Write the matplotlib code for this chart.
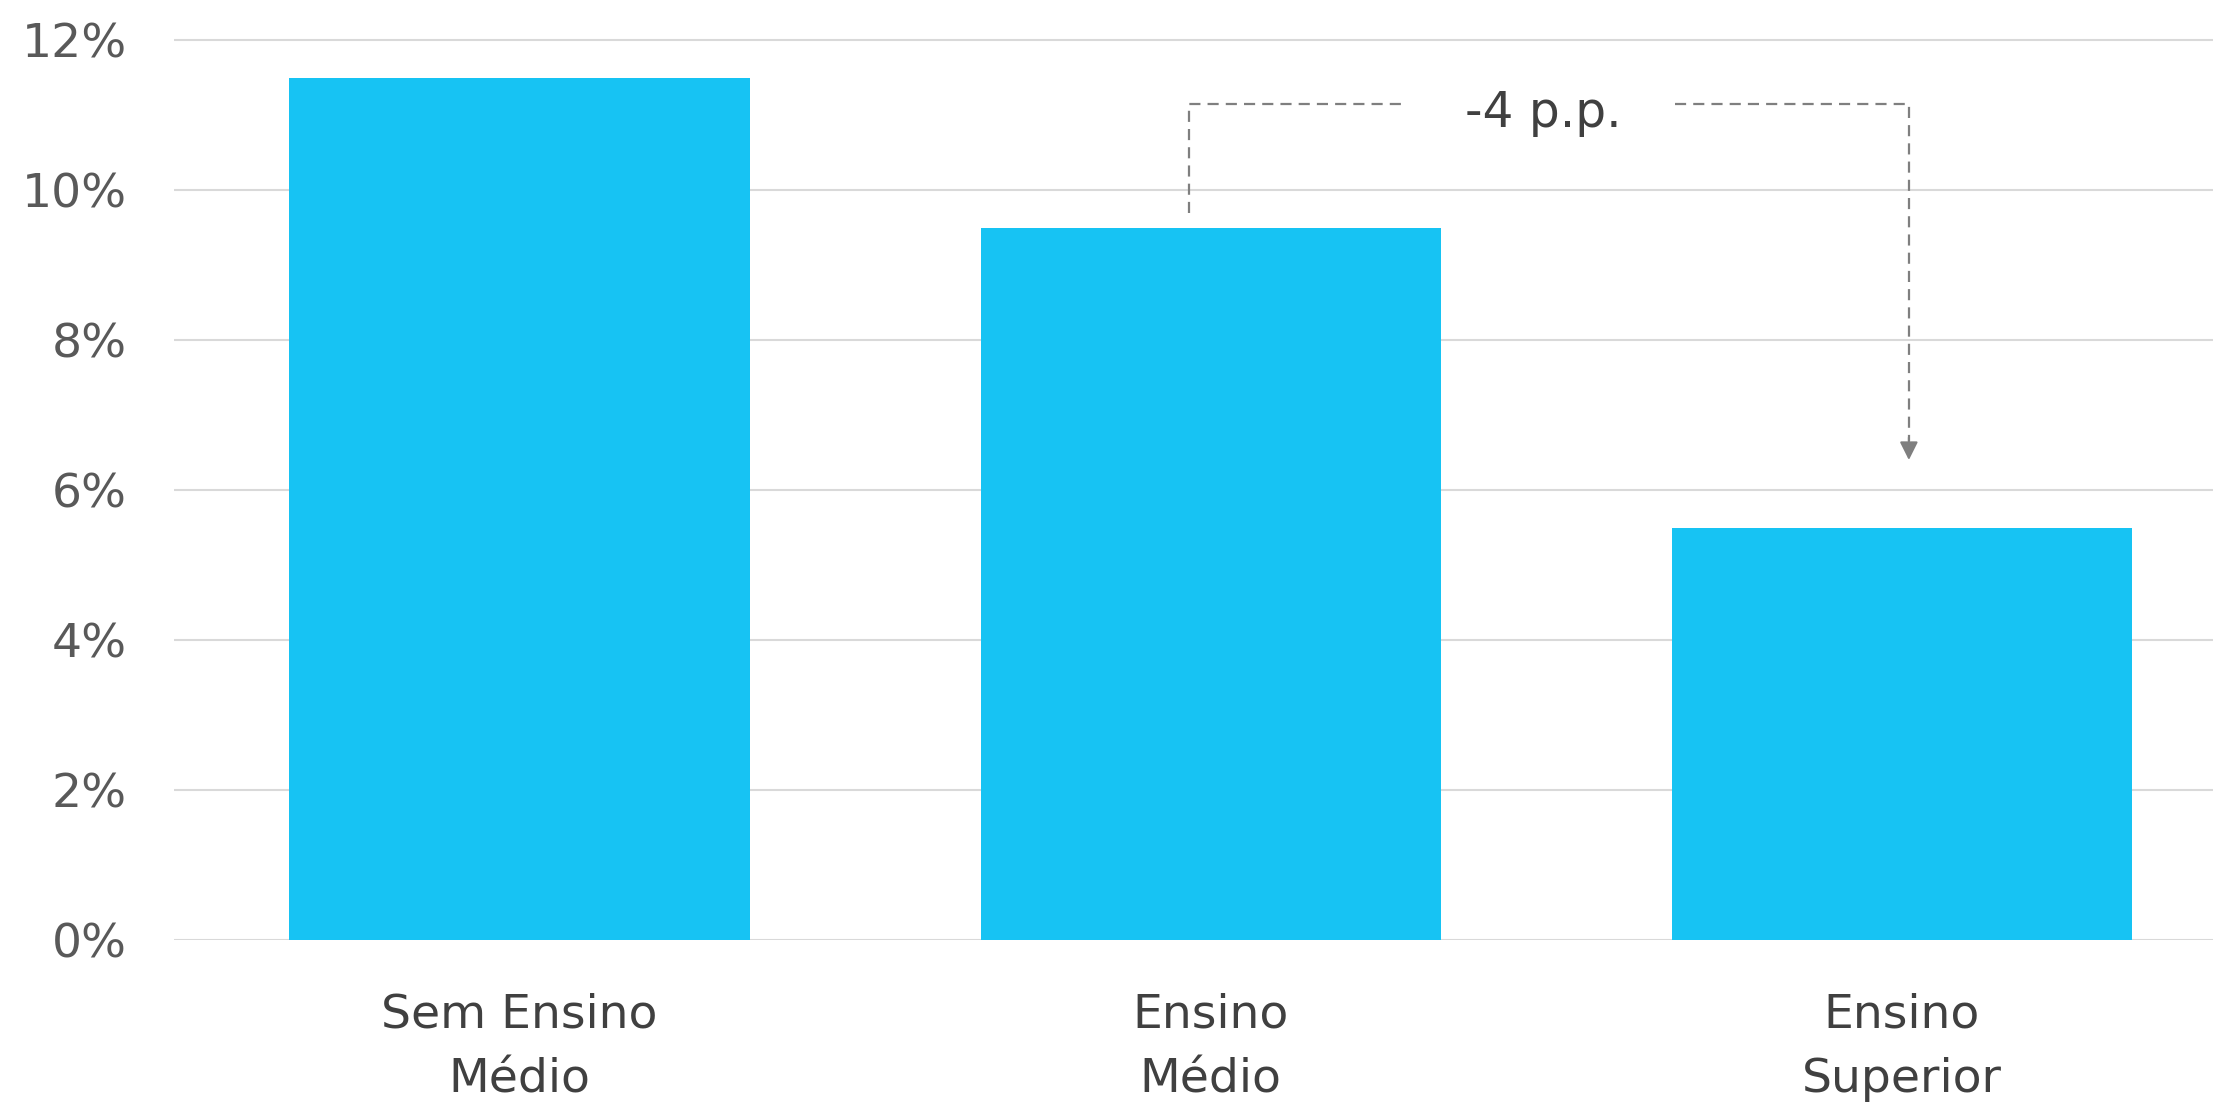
import matplotlib
matplotlib.use("Agg")
import matplotlib.pyplot as plt
from matplotlib.ticker import FixedLocator, FixedFormatter

categories = ["Sem Ensino\nMédio", "Ensino\nMédio", "Ensino\nSuperior"]
values = [11.5, 9.5, 5.5]
y_ticks = [0, 2, 4, 6, 8, 10, 12]
y_tick_labels = ["0%", "2%", "4%", "6%", "8%", "10%", "12%"]
annotation_text = "-4 p.p."

BAR_COLOR = "#17C3F3"
GRID_COLOR = "#D9D9D9"
TICK_COLOR = "#595959"
TEXT_COLOR = "#404040"
DASH_COLOR = "#7F7F7F"

plt.rcParams["font.family"] = ["DejaVu Sans"]

W, H = 2213, 1108
fig = plt.figure(figsize=(W / 100, H / 100), dpi=100)
ax = fig.add_axes([174 / W, 1 - 940 / H, 1 - 174 / W, 12.5 * 75 / H])

x = list(range(len(categories)))
ax.bar(x, values, width=0.666, color=BAR_COLOR, zorder=3)

ax.set_xlim(-0.5, 2.45)
ax.set_ylim(0, 12.5)
ax.yaxis.set_major_locator(FixedLocator(y_ticks))
ax.yaxis.set_major_formatter(FixedFormatter(y_tick_labels))
ax.grid(axis="y", color=GRID_COLOR, linewidth=1.5, zorder=0)
ax.set_axisbelow(True)
for s in ax.spines.values():
    s.set_visible(False)
ax.tick_params(axis="y", length=0, pad=34, labelsize=34, labelcolor=TICK_COLOR)
ax.tick_params(axis="x", length=0, pad=38, labelsize=34, labelcolor=TEXT_COLOR)
ax.set_xticks(x)
ax.set_xticklabels(categories, linespacing=1.55)

# bracket annotation between bar 2 and bar 3
x_left = x[1] - 0.032
x_right = x[2] + 0.01
y_top = values[1] + 1.65
y_start = values[1] + 0.2
y_end = values[2] + 0.9
x_mid = x_left + (x_right - x_left) * 0.492
gap_l = x_left + (x_right - x_left) * 0.30
gap_r = x_left + (x_right - x_left) * 0.675
dash_kw = dict(color=DASH_COLOR, linewidth=1.6, linestyle=(0, (5, 3.2)), zorder=4)
ax.plot([x_left, x_left, gap_l], [y_start, y_top, y_top], **dash_kw)
ax.plot([gap_r, x_right, x_right], [y_top, y_top, y_end + 0.25], **dash_kw)
ax.annotate("", xy=(x_right, y_end), xytext=(x_right, y_end + 0.3),
            arrowprops=dict(arrowstyle="-|>,head_length=1.1,head_width=0.55",
                            color=DASH_COLOR, lw=1.5, shrinkA=0, shrinkB=0))
ax.text(x_mid, y_top - 0.31, annotation_text, ha="center", va="baseline",
        fontsize=35, color=TEXT_COLOR)

fig.savefig("out.png", dpi=100, facecolor="white")
